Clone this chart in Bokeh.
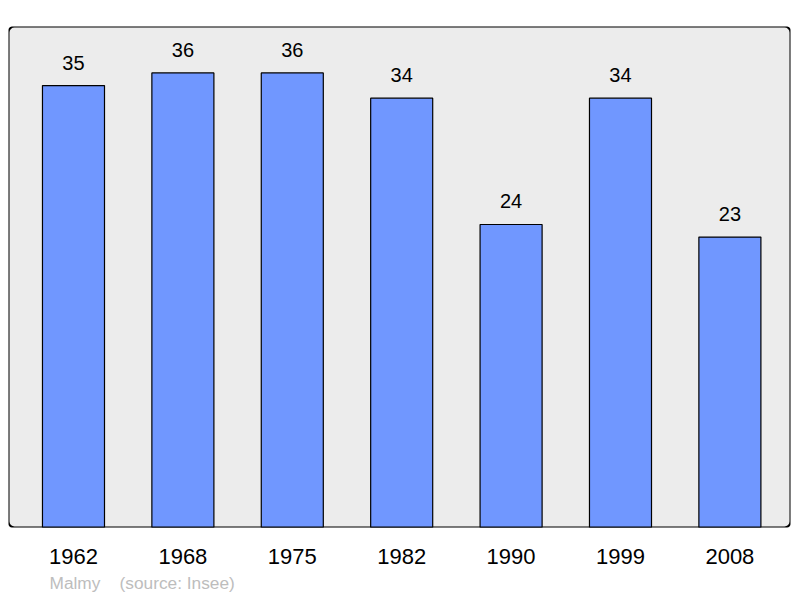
from bokeh.plotting import figure
from bokeh.models import ColumnDataSource, FixedTicker, BoxAnnotation, Title
from bokeh.embed import file_html
from bokeh.resources import INLINE
from bokeh.core.properties import value

years = ["1962", "1968", "1975", "1982", "1990", "1999", "2008"]
population = [35, 36, 36, 34, 24, 34, 23]
footer_place = "Malmy"
footer_source = "(source: Insee)"

xs = list(range(len(years)))
src = ColumnDataSource(dict(x=xs, top=population, label=[str(v) for v in population]))

p = figure(frame_width=782, frame_height=501, output_backend="svg", toolbar_location=None,
           x_range=(-0.594, 6.554), y_range=(0, 39.68),
           min_border_left=8, min_border_right=1, min_border_top=26, min_border_bottom=2)
p.background_fill_color = None
p.border_fill_color = "white"
p.outline_line_color = None
p.grid.visible = False
p.yaxis.visible = False

bg = BoxAnnotation(fill_color="#ececec", fill_alpha=1, line_color=None, level="underlay",
                   border_radius=6)
p.add_layout(bg)

p.vbar(x="x", top="top", bottom=0, width=0.567, source=src,
       fill_color="#7097ff", line_color="black", line_width=1.2)

p.text(x="x", y="top", text="label", source=src, y_offset=-23,
       text_align="center", text_baseline="alphabetic",
       text_font=value("Liberation Sans"), text_font_size="20px", text_color="black")

frame = BoxAnnotation(fill_color=None, line_color="black", line_alpha=1, line_width=2,
                      level="overlay", border_radius=6)
p.add_layout(frame)

ax = p.xaxis[0]
ax.ticker = FixedTicker(ticks=xs)
ax.major_label_overrides = {i: y for i, y in enumerate(years)}
ax.major_tick_line_color = None
ax.minor_tick_line_color = None
ax.axis_line_color = None
ax.major_label_standoff = 15
ax.major_label_text_font = "Liberation Sans"
ax.major_label_text_font_size = "22px"
ax.major_label_text_color = "black"

footer = Title(text=footer_place + "\u00a0\u00a0\u00a0\u00a0" + footer_source,
               align="left", offset=41, standoff=9,
               text_font="Liberation Sans", text_font_size="17.3px",
               text_font_style="normal", text_color="#bdbdbd")
p.add_layout(footer, "below")

open("out.html", "w").write(file_html(p, INLINE))
